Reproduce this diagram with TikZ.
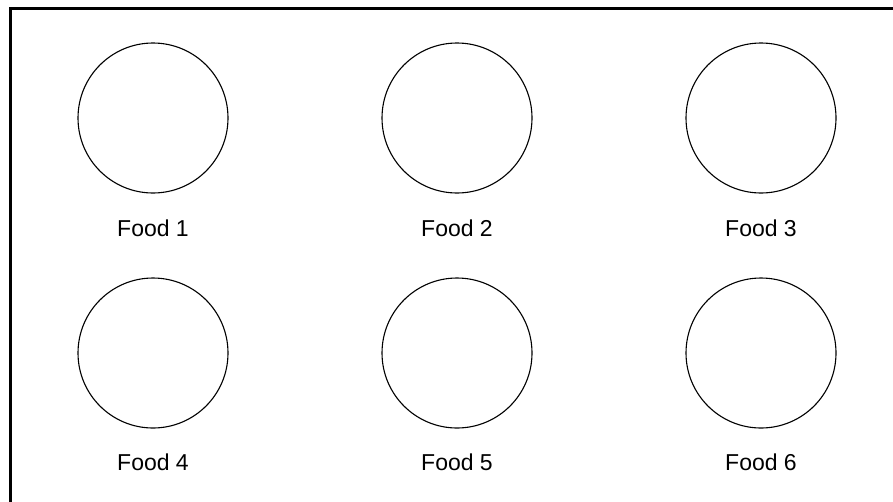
\documentclass[tikz,border=0pt]{standalone}
\usepackage{fontspec}
\setmainfont{Liberation Sans}
\begin{document}
\begin{tikzpicture}[x=1pt,y=-1pt,
  plate/.style={circle,draw=black,line width=1.1pt,minimum size=150pt,inner sep=0pt},
  lbl/.style={font=\fontsize{23}{27}\selectfont,inner sep=0pt,anchor=base},
  frameline/.style={line width=3pt,draw=black}]
\useasboundingbox (0,0) rectangle (893,501);
\coordinate (tl) at (10.5,8.5);
\coordinate (tr) at (895,8.5);
\coordinate (bl) at (10.5,503);
\draw[frameline] (tr) -- (tl) -- (bl);
\node[plate] (c1) at (153,118) {};
\node[plate] (c2) at (457,118) {};
\node[plate] (c3) at (761,118) {};
\node[plate] (c4) at (153,353) {};
\node[plate] (c5) at (457,353) {};
\node[plate] (c6) at (761,353) {};
\node[lbl] (l1) at (153,236) {Food 1};
\node[lbl] (l2) at (457,236) {Food 2};
\node[lbl] (l3) at (761,236) {Food 3};
\node[lbl] (l4) at (153,470) {Food 4};
\node[lbl] (l5) at (457,470) {Food 5};
\node[lbl] (l6) at (761,470) {Food 6};
\end{tikzpicture}
\end{document}
